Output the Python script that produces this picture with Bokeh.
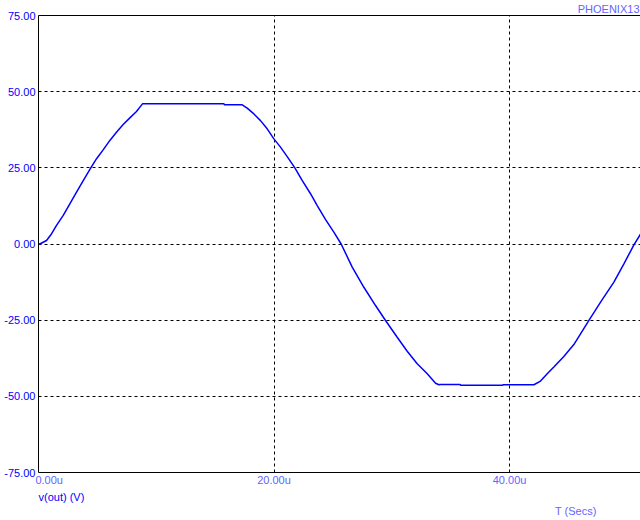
from bokeh.plotting import figure
from bokeh.models import Range1d, FixedTicker, LinearAxis, NumeralTickFormatter, Grid, Title
from bokeh.embed import file_html
from bokeh.resources import INLINE

# time in microseconds, voltage in volts
t_us = [0.0, 0.11, 0.68, 1.10, 1.53, 2.10, 2.66, 3.23, 3.80, 4.44,
        4.93, 5.49, 6.06, 6.62, 7.19, 7.76, 8.32, 8.83, 15.75, 15.8,
        17.3, 17.72, 18.29, 18.85, 19.42, 19.99, 20.55, 21.12, 21.77, 22.40,
        23.10, 23.67, 24.38, 25.08, 25.70, 26.64, 27.63, 28.62, 29.47, 30.46,
        31.31, 32.16, 33.01, 33.72, 34.0, 34.1, 35.8, 35.85, 39.4, 39.45,
        42.07, 42.63, 43.20, 43.76, 44.61, 45.46, 46.74, 47.73, 48.86, 49.71,
        50.56, 51.13]
v_out = [0.0, 0.0, 1.15, 3.3, 6.1, 9.4, 13.2, 17.0, 20.8, 25.0,
         28.0, 30.9, 34.0, 36.7, 39.2, 41.4, 43.5, 46.0, 46.0, 45.7,
         45.7, 44.6, 42.7, 40.5, 37.8, 34.5, 31.8, 28.7, 25.0, 20.8,
         16.5, 12.6, 8.0, 3.9, 0.0, -7.6, -14.2, -20.2, -25.1, -30.6,
         -35.2, -39.3, -42.6, -45.7, -46.2, -46.1, -46.1, -46.4, -46.4, -46.2,
         -46.2, -45.0, -42.6, -40.4, -36.9, -33.0, -25.1, -19.1, -12.5, -6.5,
         -0.3, 3.3]

y_ticks = [-75, -50, -25, 0, 25, 50, 75]
x_ticks = [0, 20, 40]
NB = "\u00a0"
x_tick_labels = {0: NB * 7 + "0.00u", 20: "20.00u", 40: "40.00u"}
x_max = 51.12

FONT = "Liberation Sans"
BLUE = "#0000FF"
LIGHT = "#6464FF"

p = figure(width=640, height=520, output_backend="svg", toolbar_location=None,
           x_range=Range1d(0, x_max), y_range=Range1d(-75, 75),
           min_border_left=38, min_border_right=0, min_border_top=15,
           min_border_bottom=48, x_axis_type=None, y_axis_type=None)
p.outline_line_color = None
p.background_fill_color = "white"
p.border_fill_color = "white"

yaxis = LinearAxis(ticker=FixedTicker(ticks=y_ticks),
                   formatter=NumeralTickFormatter(format="0.00"))
yaxis.major_tick_out = 0
yaxis.major_tick_in = 0
yaxis.minor_tick_out = 0
yaxis.minor_tick_in = 0
yaxis.major_label_standoff = 3
yaxis.major_label_text_color = BLUE
yaxis.major_label_text_font = FONT
yaxis.major_label_text_font_size = "11px"
yaxis.axis_line_color = "black"
p.add_layout(yaxis, "left")

xaxis = LinearAxis(ticker=FixedTicker(ticks=x_ticks))
xaxis.major_label_overrides = x_tick_labels
xaxis.major_tick_out = 0
xaxis.major_tick_in = 0
xaxis.minor_tick_out = 0
xaxis.minor_tick_in = 0
xaxis.major_label_standoff = 1
xaxis.major_label_text_color = LIGHT
xaxis.major_label_text_font = FONT
xaxis.major_label_text_font_size = "11px"
xaxis.axis_line_color = "black"
p.add_layout(xaxis, "below")

top = LinearAxis(ticker=FixedTicker(ticks=[]))
top.major_tick_out = 0
top.minor_tick_out = 0
top.major_label_text_font_size = "0px"
top.major_label_standoff = 0
top.axis_line_color = "black"
p.add_layout(top, "above")

xg = Grid(dimension=0, ticker=FixedTicker(ticks=[20, 40]),
          grid_line_color="black", grid_line_dash="3 3", grid_line_width=1)
yg = Grid(dimension=1, ticker=FixedTicker(ticks=[-50, -25, 0, 25, 50]),
          grid_line_color="black", grid_line_dash="3 3", grid_line_width=1)
p.add_layout(xg)
p.add_layout(yg)

p.line(t_us, v_out, line_color=BLUE, line_width=1.5)

def ttl(text, align, color, offset, standoff):
    return Title(text=text, align=align, text_color=color, text_font=FONT,
                 text_font_size="11px", text_font_style="normal",
                 offset=offset, standoff=standoff)

p.add_layout(ttl("v(out) (V)", "left", BLUE, 0, 0), "below")
p.add_layout(ttl("T (Secs)", "right", LIGHT, 44, 0), "below")
p.add_layout(ttl("PHOENIX13", "right", LIGHT, 1, 1), "above")

open("out.html", "w").write(file_html(p, INLINE))
